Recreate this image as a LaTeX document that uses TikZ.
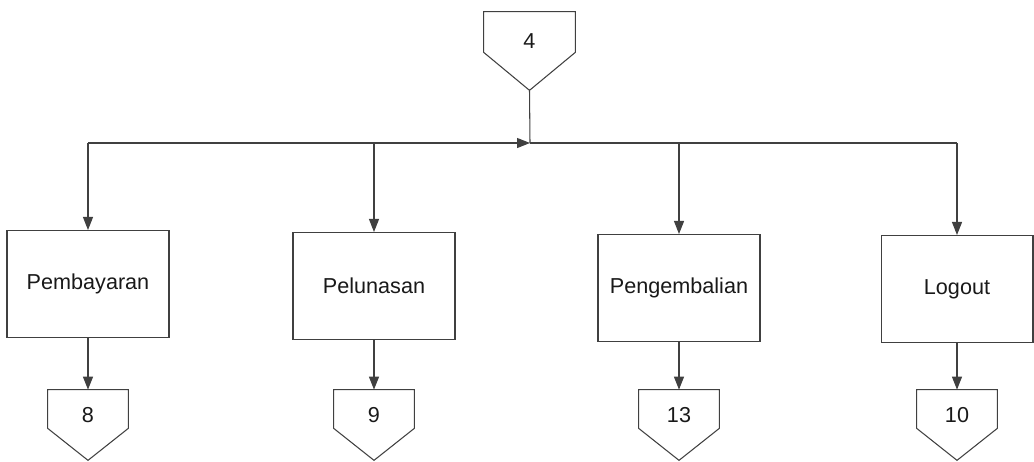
\documentclass[tikz,border=0pt]{standalone}
\usepackage{fontspec}
\setmainfont{Liberation Sans}
\usetikzlibrary{arrows.meta}

\begin{document}
\begin{tikzpicture}[x=0.02cm, y=0.02cm, >={Triangle[length=0.26cm, width=0.2cm]},
    line/.style={draw=black!75, line width=0.6pt},
    menu/.style={line, rectangle, minimum width=3.24cm, minimum height=2.14cm, inner sep=0pt,
        text=black!90, font=\fontsize{12.3}{14}\selectfont},
    offpage/.style={rectangle, minimum width=1.6cm, minimum height=0.76cm, inner sep=0pt,
        text height=0.55cm, text depth=0pt, text=black!90, font=\fontsize{12.3}{14}\selectfont}]
    \useasboundingbox (0,0) rectangle (1034,461);

    % Define coordinates
    \coordinate (j) at (530,318);

    % Off-page connectors
    \node[offpage, minimum width=1.82cm, minimum height=0.8cm, text height=0.68cm] (p4) at (529.5,429) {4};
    \node[offpage] (p8) at (88,52) {8};
    \node[offpage] (p9) at (374,52) {9};
    \node[offpage] (p13) at (679,52) {13};
    \node[offpage] (p10) at (957,52) {10};

    \foreach \n/\d in {p4/0.76, p8/0.64, p9/0.64, p13/0.64, p10/0.64}
        \draw[line] (\n.north west) -- (\n.north east) -- (\n.south east)
            -- ([yshift=-\d cm]\n.south) -- (\n.south west) -- cycle;

    % Menu boxes
    \node[menu] (b1) at (88,177) {Pembayaran};
    \node[menu] (b2) at (374,175) {Pelunasan};
    \node[menu] (b3) at (679,173) {Pengembalian};
    \node[menu, minimum width=3.04cm] (b4) at (957,172) {Logout};

    % Draw connectors
    \draw[line] ([yshift=-0.76cm]p4.south) -- (j);
    \draw[line, ->] (j -| b1.north) -- (j);
    \draw[line] (j) -- (j -| b4.north);
    \foreach \b in {b1, b2, b3, b4}
        \draw[line, ->] (j -| \b.north) -- (\b.north);
    \foreach \b/\p in {b1/p8, b2/p9, b3/p13, b4/p10}
        \draw[line, ->] (\b.south) -- (\p.north);
\end{tikzpicture}
\end{document}
